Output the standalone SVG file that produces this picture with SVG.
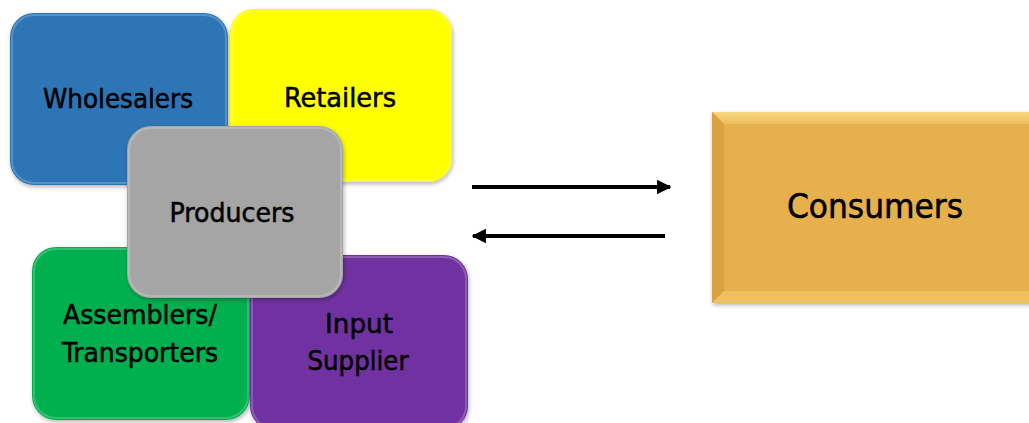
<svg xmlns="http://www.w3.org/2000/svg" width="1029" height="423" viewBox="0 0 1029 423">
<defs>
<style>
.lbl{font-family:"DejaVu Sans Condensed","Liberation Sans",sans-serif;font-size:27px;fill:#000;stroke:#000;stroke-width:0.5;text-anchor:middle}
.big{font-size:33px}
.hl{fill:none;stroke:#ffffff;stroke-opacity:0.2;stroke-width:2}
.conn{stroke:#000;stroke-width:4;fill:none}
</style>
<filter id="sh" x="-10%" y="-10%" width="120%" height="120%">
<feDropShadow dx="1" dy="2" stdDeviation="2" flood-color="#000" flood-opacity="0.3"/>
</filter>
<marker id="ah" viewBox="0 0 10 10" refX="9" refY="5" markerWidth="3.6" markerHeight="4" orient="auto-start-reverse" markerUnits="strokeWidth">
<path d="M0,0 L10,5 L0,10 z" fill="#000"/>
</marker>
<linearGradient id="cTop" x1="0" y1="0" x2="0" y2="1">
<stop offset="0" stop-color="#F7D77E"/><stop offset="1" stop-color="#EDBE5C"/>
</linearGradient>
</defs>
<g id="wholesalers">
<rect x="10" y="13" width="218" height="172" rx="24" fill="#2E74B5" filter="url(#sh)"/>
<rect x="12" y="15" width="214" height="168" rx="22" class="hl"/>
<text class="lbl" x="118" y="108" textLength="150" lengthAdjust="spacingAndGlyphs">Wholesalers</text>
</g>
<g id="retailers">
<rect x="230" y="9" width="222" height="173" rx="24" fill="#FFFF00" filter="url(#sh)"/>
<rect x="232" y="11" width="218" height="169" rx="22" class="hl"/>
<text class="lbl" x="340" y="107" textLength="112" lengthAdjust="spacingAndGlyphs">Retailers</text>
</g>
<g id="assemblers">
<rect x="32" y="247" width="218" height="173" rx="24" fill="#00B050" filter="url(#sh)"/>
<rect x="34" y="249" width="214" height="169" rx="22" class="hl"/>
<text class="lbl" x="140" y="324" textLength="154" lengthAdjust="spacingAndGlyphs">Assemblers/</text>
<text class="lbl" x="140" y="362" textLength="156" lengthAdjust="spacingAndGlyphs">Transporters</text>
</g>
<g id="input-supplier">
<rect x="250" y="255" width="218" height="175" rx="24" fill="#7030A0" filter="url(#sh)"/>
<rect x="252" y="257" width="214" height="171" rx="22" class="hl"/>
<text class="lbl" x="359" y="333" textLength="68" lengthAdjust="spacingAndGlyphs">Input</text>
<text class="lbl" x="358" y="370" textLength="101" lengthAdjust="spacingAndGlyphs">Supplier</text>
</g>
<g id="producers">
<rect x="127" y="126" width="216" height="172" rx="24" fill="#A5A5A5" filter="url(#sh)"/>
<rect x="129" y="128" width="212" height="168" rx="22" class="hl"/>
<text class="lbl" x="232" y="222" textLength="125" lengthAdjust="spacingAndGlyphs">Producers</text>
</g>
<g id="consumers">
<rect x="712" y="112" width="330" height="191" fill="#E6B04D" filter="url(#sh)"/>
<polygon points="712,112 1042,112 1030,124 724,124" fill="url(#cTop)"/>
<polygon points="712,112 724,124 724,291 712,303" fill="#D9A23F"/>
<polygon points="712,303 724,291 1030,291 1042,303" fill="#EFC061"/>
<text class="lbl big" x="875" y="218" textLength="176" lengthAdjust="spacingAndGlyphs">Consumers</text>
</g>
<g id="connectors">
<line class="conn" x1="472" y1="187" x2="670" y2="187" marker-end="url(#ah)"/>
<line class="conn" x1="665" y1="236" x2="473" y2="236" marker-end="url(#ah)"/>
</g>
</svg>
